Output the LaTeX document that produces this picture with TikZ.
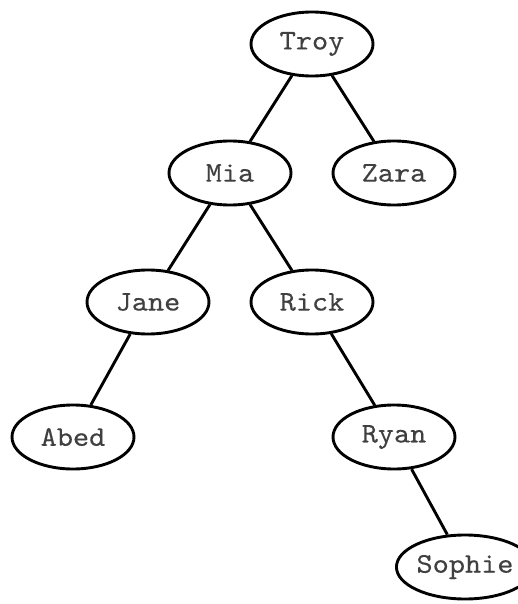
\documentclass[tikz,border=0pt]{standalone}
\usepackage{fontspec}
\setmonofont{lmmono10-regular.otf}[FakeStretch=1.08,FakeBold=0.3]
\usetikzlibrary{shapes.geometric}
\begin{document}
\begin{tikzpicture}[x=1pt,y=-1pt,
  person/.style={draw, ellipse, line width=2.9pt, minimum width=122pt, minimum height=64pt, inner sep=0pt, font=\ttfamily\fontsize{28.5}{28.5}\selectfont, text=black!75},
  edge/.style={line width=2.9pt}]
\useasboundingbox (0,0) rectangle (518,604);
\node[person] (troy) at (312,44) {Troy};
\node[person] (mia) at (230,173) {Mia};
\node[person] (zara) at (394,173) {Zara};
\node[person] (jane) at (148,302) {Jane};
\node[person] (rick) at (312,302) {Rick};
\node[person] (abed) at (73,437) {Abed};
\node[person] (ryan) at (394,437) {Ryan};
\node[person] (sophie) at (465,567) {Sophie};
\draw[edge] (troy) -- (mia);
\draw[edge] (troy) -- (zara);
\draw[edge] (mia) -- (jane);
\draw[edge] (mia) -- (rick);
\draw[edge] (jane) -- (abed);
\draw[edge] (rick) -- (ryan);
\draw[edge] (ryan) -- (sophie);
\end{tikzpicture}
\end{document}
